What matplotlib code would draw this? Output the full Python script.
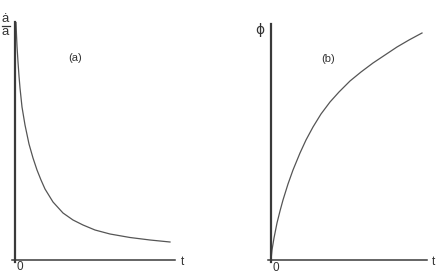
import matplotlib
matplotlib.use("Agg")
import matplotlib.pyplot as plt
from matplotlib.lines import Line2D

plt.rcParams['font.family'] = ['Liberation Sans', 'DejaVu Sans']

# panel (a): Hubble rate a_dot/a vs t
t_a = [1, 1.5, 2, 3, 4, 5, 7, 10, 14, 18, 22, 26, 30, 38, 48, 58, 68, 80, 95, 115, 135, 155]
h_a = [238, 225, 214, 198, 184, 172, 153, 135, 116, 102, 90, 80, 71, 58, 47, 40, 35, 30, 26, 22.5, 20, 18]

# panel (b): phi vs t
t_b = [0, 1, 3, 6, 9, 12, 17, 22, 29, 35, 42, 50, 59, 68, 79, 90, 102, 114, 126, 138, 151]
phi_b = [0, 10, 22, 37, 49, 60, 76, 90, 107, 120, 133, 146, 158, 168, 179, 188, 197, 205, 213, 220, 227]

W, H = 436, 274
fig = plt.figure(figsize=(W / 100, H / 100), dpi=100)

axcol = '#3a3a3a'
curvecol = '#555555'
txtcol = '#333333'

def setup(ax, xmax, ymax):
    ax.set_xlim(-3, xmax)
    ax.set_ylim(-2, ymax)
    for s in ['top', 'right']:
        ax.spines[s].set_visible(False)
    ax.spines['left'].set_position(('data', 0))
    ax.spines['bottom'].set_position(('data', 0))
    ax.spines['left'].set_linewidth(1.6)
    ax.spines['bottom'].set_linewidth(1.1)
    ax.spines['left'].set_color(axcol)
    ax.spines['bottom'].set_color(axcol)
    ax.set_xticks([])
    ax.set_yticks([])
    ax.patch.set_alpha(0)

def px(x, y):
    return x / W, 1 - y / H

# left panel
ax1 = fig.add_axes([12 / W, 12 / H, 163 / W, 240 / H])
setup(ax1, 160, 238)
ax1.plot(t_a, h_a, color=curvecol, lw=0.9)
fig.text(*px(182, 262), 't', fontsize=8.5, ha='center', va='center', color=txtcol)
fig.text(*px(20, 267), '0', fontsize=8.5, ha='center', va='center', color=txtcol)
fig.text(*px(75, 58), '(a)', fontsize=8, ha='center', va='center', color=txtcol)
# a-dot over a
fig.text(*px(5.5, 19.5), '\u0227', fontsize=9.5, ha='center', va='center', color=txtcol)
fig.add_artist(Line2D([2 / W, 9.5 / W], [1 - 26 / H, 1 - 26 / H], color=txtcol, lw=0.9))
fig.text(*px(5.5, 32), 'a', fontsize=9.5, ha='center', va='center', color=txtcol)

# right panel
ax2 = fig.add_axes([268 / W, 12 / H, 159 / W, 238 / H])
setup(ax2, 156, 236)
ax2.plot(t_b, phi_b, color=curvecol, lw=0.9)
fig.text(*px(433, 262), 't', fontsize=8.5, ha='center', va='center', color=txtcol)
fig.text(*px(276, 268), '0', fontsize=8.5, ha='center', va='center', color=txtcol)
fig.text(*px(328, 59), '(b)', fontsize=8, ha='center', va='center', color=txtcol)
fig.text(*px(260, 30), '\u03d5', fontsize=10, ha='center', va='center', color=txtcol,
         family=['DejaVu Sans'])

fig.savefig('out.png', dpi=100)
